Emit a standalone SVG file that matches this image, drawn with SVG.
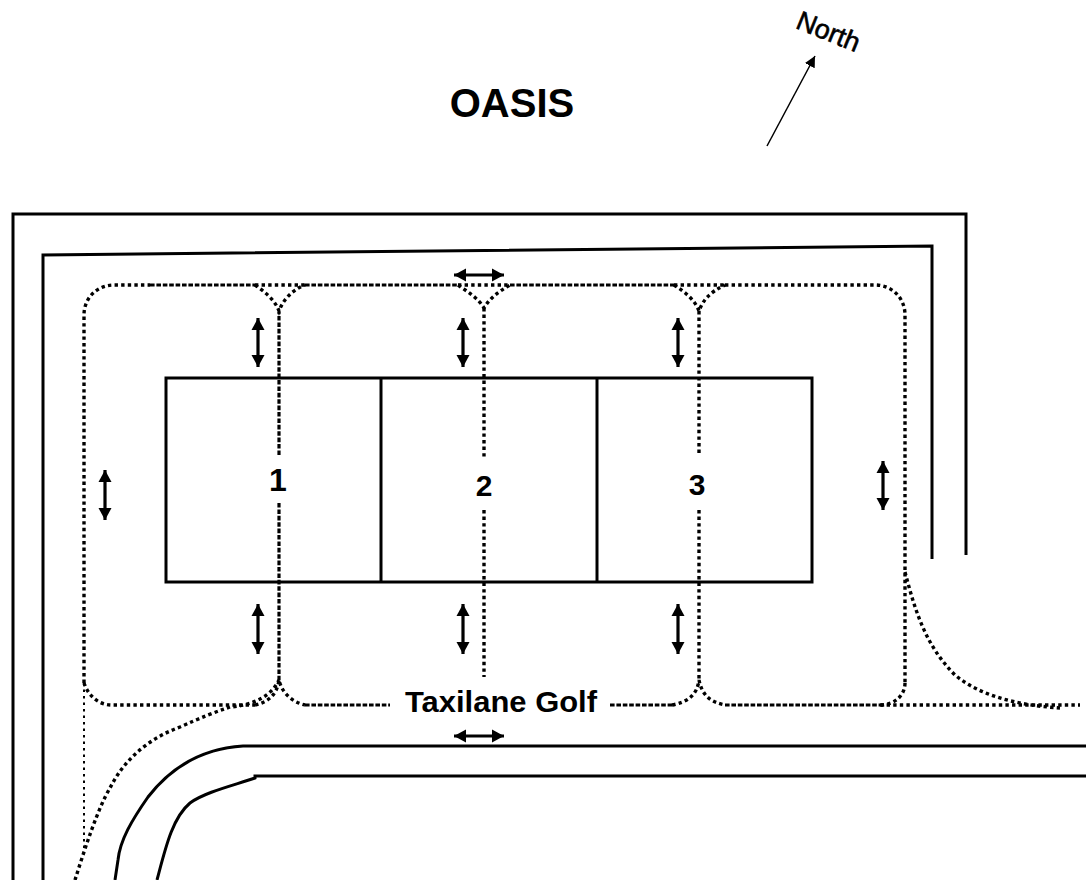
<svg xmlns="http://www.w3.org/2000/svg" width="1086" height="880" viewBox="0 0 1086 880">
<style>
.s{fill:none;stroke:#000;stroke-width:3}
.d{fill:none;stroke:#000;stroke-width:3.4;stroke-dasharray:3.4 3.2}
.m{fill:none;stroke:#000;stroke-width:3.2;stroke-dasharray:4.6 1.8}
.t{fill:none;stroke:#000;stroke-width:2;stroke-dasharray:2.5 4}
.a{stroke:#000;stroke-width:3.2;marker-start:url(#h);marker-end:url(#h)}
text{font-family:"Liberation Sans",Arial,sans-serif;fill:#000}
.b{font-weight:bold}
</style>
<defs>
<marker id="h" markerUnits="userSpaceOnUse" markerWidth="14" markerHeight="14" refX="12" refY="7" orient="auto-start-reverse"><path d="M0,0.5 L12,7 L0,13.5 Z" fill="#000"/></marker>
<marker id="n" markerUnits="userSpaceOnUse" markerWidth="12" markerHeight="12" refX="11" refY="6" orient="auto"><path d="M0,0.5 L11,6 L0,11.5 Z" fill="#000"/></marker>
</defs>
<rect width="1086" height="880" fill="#fff"/>
<g id="connectors">
<g id="taxiway-edges">
<path class="s" d="M13,880 V214 H966 V555"/>
<path class="s" d="M43,880 V255 L932,246 V559"/>
<path class="s" d="M1086,746 H243 C195,749 165,775 148,797 C132,820 120,840 118,860 L115,880"/>
<path class="s" d="M1086,776 H255 V778 C235,785 205,792 190,803 C172,818 165,850 157,880"/>
</g>
<g id="taxilanes">
<path class="m" d="M279,455 V312 M279,503 V680"/>
<path class="d" d="M84,683 V315 C84,298 97,285 114,285 H150"/>
<path class="m" d="M150,285 H255"/>
<path class="d" d="M255,285 H305 M458,285 H510"/>
<path class="d" d="M255,285 C265,292 275,300 279,311 C283,300 292,290 305,285"/>
<path class="m" d="M305,285 H458"/>
<path class="d" d="M458,285 C468,292 478,298 484,308 C490,298 498,292 510,285"/>
<path class="m" d="M510,285 H674"/>
<path class="d" d="M674,285 H725"/>
<path class="d" d="M674,285 C685,292 695,300 699,311 C703,300 710,292 725,285"/>
<path class="d" d="M725,285 H875 C892,285 905,298 905,315 V683"/>
<path class="d" d="M699,311 V455 M699,510 V680"/>
<path class="d" d="M905,683 C905,695 895,705 880,705"/>
<path class="d" d="M84,683 C88,695 98,705 112,705 H255"/>
<path class="d" d="M255,705 C268,702 277,695 279,680 C282,693 292,702 305,705"/>
<path class="m" d="M305,705 H390"/>
<path class="m" d="M610,705 H672"/>
<path class="d" d="M672,705 C688,702 697,695 699,680 C702,695 710,702 725,705"/>
<path class="m" d="M725,705 H880"/>
<path class="d" d="M880,705 H1080"/>
<path class="d" d="M484,308 V458 M484,510 V677"/>
<path class="d" d="M905,572 C915,610 925,645 955,675 C985,700 1030,706 1060,708"/>
<path class="d" d="M75,880 C85,848 98,808 110,788 C125,758 150,738 180,727 C200,718 215,712 230,707 C255,705 272,695 279,680"/>
<path class="t" d="M84,683 V848"/>
</g>
<g id="movement-arrows">
<line class="a" x1="258" y1="318" x2="258" y2="367"/>
<line class="a" x1="463" y1="318" x2="463" y2="367"/>
<line class="a" x1="678" y1="318" x2="678" y2="367"/>
<line class="a" x1="105" y1="470" x2="105" y2="520"/>
<line class="a" x1="883" y1="461" x2="883" y2="510"/>
<line class="a" x1="258" y1="604" x2="258" y2="654"/>
<line class="a" x1="463" y1="604" x2="463" y2="654"/>
<line class="a" x1="678" y1="604" x2="678" y2="654"/>
<line class="a" x1="454" y1="275" x2="504" y2="275"/>
<line class="a" x1="454" y1="736" x2="504" y2="736"/>
</g>
<line id="north-arrow" x1="767" y1="146" x2="815" y2="56" stroke="#000" stroke-width="1.5" marker-end="url(#n)"/>
</g>
<g id="apron">
<rect x="166" y="378" width="646" height="204" fill="none" stroke="#000" stroke-width="3"/>
<line x1="381" y1="378" x2="381" y2="582" stroke="#000" stroke-width="3"/>
<line x1="597" y1="378" x2="597" y2="582" stroke="#000" stroke-width="3"/>
</g>
<g id="stand-1"><text class="b" x="278" y="491" font-size="32" text-anchor="middle">1</text></g>
<g id="stand-2"><text class="b" x="484" y="496" font-size="30" text-anchor="middle">2</text></g>
<g id="stand-3"><text class="b" x="697" y="495" font-size="30" text-anchor="middle">3</text></g>
<g id="label-oasis"><text class="b" x="512" y="117" font-size="40" text-anchor="middle">OASIS</text></g>
<g id="label-taxilane"><text class="b" x="405" y="712" font-size="30" textLength="192" lengthAdjust="spacingAndGlyphs">Taxilane Golf</text></g>
<g id="label-north"><text x="0" y="0" font-size="27" stroke="#000" stroke-width="0.6" text-anchor="middle" transform="translate(825,40) rotate(22)">North</text></g>
</svg>
